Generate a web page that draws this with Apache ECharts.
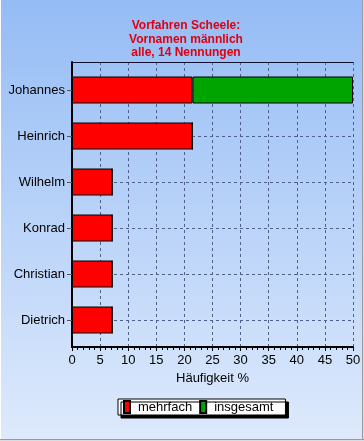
<!DOCTYPE html>
<html>
<head>
<meta charset="utf-8">
<script src="https://cdn.jsdelivr.net/npm/echarts@6/dist/echarts.min.js"></script>
<style>
html,body{margin:0;padding:0;}
#c{width:364px;height:441px;}
</style>
</head>
<body>
<div id="c"></div>
<script>
const titleLines = ['Vorfahren Scheele:', 'Vornamen männlich', 'alle, 14 Nennungen'];
const categories = ['Johannes', 'Heinrich', 'Wilhelm', 'Konrad', 'Christian', 'Dietrich'];
const mehrfach = [21.43, 21.43, 7.14, 7.14, 7.14, 7.14];
const insgesamt = [28.57, 0, 0, 0, 0, 0];
const xTicks = { min: 0, max: 50, interval: 5 };
const xName = 'Häufigkeit %';
const seriesNames = ['mehrfach', 'insgesamt'];

const font = '"Liberation Sans", Arial, sans-serif';
const dashColor = '#50608a';
const L = 72, W = 281;

const chart = echarts.init(document.getElementById('c'), null, { renderer: 'canvas' });
chart.setOption({
  animation: false,
  backgroundColor: {
    type: 'linear', x: 0, y: 0, x2: 0, y2: 1,
    colorStops: [{ offset: 0, color: '#95bcf5' }, { offset: 1, color: '#deeafc' }]
  },
  title: {
    text: titleLines.join('\n'),
    left: 181, top: 14, textAlign: 'center',
    textStyle: { color: '#e00010', fontSize: 12, fontWeight: 'bold', fontFamily: font, lineHeight: 13.5 }
  },
  legend: {
    data: seriesNames,
    left: 118, top: 399,
    padding: [1, 12, 1, 5],
    backgroundColor: '#ffffff', borderColor: '#000000', borderWidth: 1,
    shadowColor: '#000000', shadowBlur: 0, shadowOffsetX: 3, shadowOffsetY: 3,
    itemWidth: 6, itemHeight: 12, itemGap: 7,
    icon: 'rect',
    textStyle: { fontSize: 13, fontFamily: font, color: '#000', padding: [0, 0, 0, 3] }
  },
  grid: [
    { left: L, width: W, top: 62, height: 285, containLabel: false },
    { left: L, width: W, top: 67, height: 276, containLabel: false },
    { left: L, width: W, top: 90, height: 230, containLabel: false }
  ],
  xAxis: [
    {
      gridIndex: 0, type: 'value', min: xTicks.min, max: xTicks.max, interval: xTicks.interval,
      position: 'bottom',
      axisLine: { show: true, onZero: false, lineStyle: { color: '#000', width: 2 } },
      axisTick: { show: true, length: 4, lineStyle: { color: '#000' } },
      minorTick: { show: true, splitNumber: 5, length: 3, lineStyle: { color: '#000' } },
      axisLabel: { fontSize: 13, fontFamily: font, color: '#000', margin: 7 },
      splitLine: { show: true, lineStyle: { color: dashColor, type: [3, 3], width: 1 } },
      name: xName, nameLocation: 'middle', nameGap: 24,
      nameTextStyle: { fontSize: 13, fontFamily: font, color: '#000' }
    },
    {
      gridIndex: 0, type: 'value', min: 0, max: 1, position: 'top',
      axisLine: { show: true, onZero: false, lineStyle: { color: '#101030', width: 1 } },
      axisTick: { show: false }, axisLabel: { show: false }, splitLine: { show: false }
    },
    {
      gridIndex: 1, type: 'value', min: xTicks.min, max: xTicks.max, show: false
    },
    {
      gridIndex: 2, type: 'value', min: 0, max: 1, show: false
    }
  ],
  yAxis: [
    {
      gridIndex: 0, type: 'value', min: 0, max: 1,
      axisLine: { show: true, onZero: false, lineStyle: { color: '#000', width: 2 } },
      axisTick: { show: false }, axisLabel: { show: false }, splitLine: { show: false }
    },
    {
      gridIndex: 1, type: 'category', data: categories, inverse: true,
      axisLine: { show: false },
      axisTick: { show: true, alignWithLabel: true, length: 5, lineStyle: { color: '#555' } },
      axisLabel: { fontSize: 13, fontFamily: font, color: '#000', margin: 7 },
      splitLine: { show: false }
    },
    {
      gridIndex: 2, type: 'category', data: categories, inverse: true, boundaryGap: false,
      axisLine: { show: false }, axisTick: { show: false }, axisLabel: { show: false },
      splitLine: { show: true, lineStyle: { color: dashColor, type: [3, 3], width: 1 } }
    }
  ],
  series: [
    {
      name: seriesNames[0], type: 'bar', stack: 's', xAxisIndex: 2, yAxisIndex: 1,
      data: mehrfach, barWidth: 27,
      itemStyle: { color: '#ff0000', borderColor: '#000', borderWidth: 1 }
    },
    {
      name: seriesNames[1], type: 'bar', stack: 's', xAxisIndex: 2, yAxisIndex: 1,
      data: insgesamt, barWidth: 27,
      itemStyle: { color: '#00a400', borderColor: '#000', borderWidth: 1 }
    }
  ],
  graphic: [
    { type: 'line', shape: { x1: 0.5, y1: 0, x2: 0.5, y2: 441 }, style: { stroke: '#ffffff', lineWidth: 1 } },
    { type: 'line', shape: { x1: 362.5, y1: 0, x2: 362.5, y2: 441 }, style: { stroke: '#9a9a9a', lineWidth: 1 } },
    { type: 'line', shape: { x1: 363.5, y1: 0, x2: 363.5, y2: 441 }, style: { stroke: '#dcdcdc', lineWidth: 1 } },
    { type: 'line', shape: { x1: 0, y1: 439.5, x2: 364, y2: 439.5 }, style: { stroke: '#9a9a9a', lineWidth: 1 } },
    { type: 'line', shape: { x1: 0, y1: 440.5, x2: 364, y2: 440.5 }, style: { stroke: '#dcdcdc', lineWidth: 1 } }
  ]
});
</script>
</body>
</html>
